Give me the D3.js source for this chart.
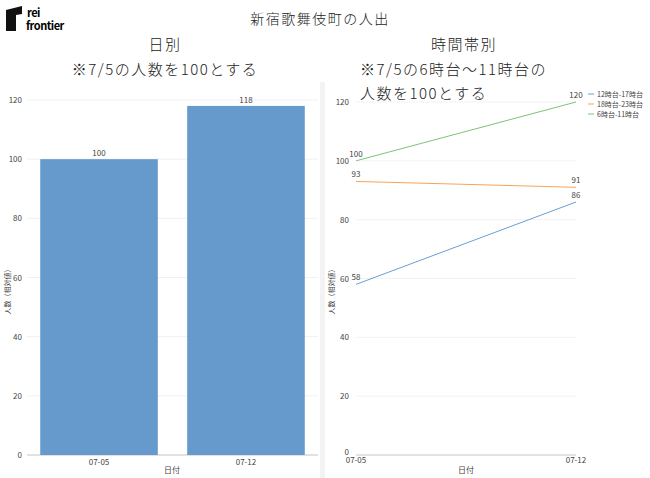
<!DOCTYPE html><html><head><meta charset="utf-8"><script src="https://d3js.org/d3.v7.min.js"></script>
<style>body{margin:0;background:#fff}text{font-family:"Noto Sans CJK JP","Noto Sans",sans-serif}</style></head><body><svg id="c" width="650" height="478"></svg>
<script>
const dates=["07-05","07-12"];
const dailyValues=[100,118];
const seriesNames=["12時台-17時台","18時台-23時台","6時台-11時台"];
const seriesValues=[[58,86],[93,91],[100,120]];
const seriesColors=["#6a9fd0","#f5a55a","#7cc47a"];
const yTicks=[0,20,40,60,80,100,120];
const svg=d3.select("#c");
svg.append("rect").attr("x",320).attr("y",82).attr("width",5).attr("height",396).attr("fill","#f3f3f3");
// logo
svg.append("path").attr("d","M6,10 L22,6 L22,14 L16,15 L16,31 L6,31 Z").attr("fill","#111");
svg.append("text").attr("x",27).attr("y",17).attr("font-size",11).attr("font-weight","bold").attr("font-family","Liberation Sans").attr("letter-spacing",-0.5).text("rei");
svg.append("text").attr("x",26).attr("y",30).attr("font-size",11).attr("font-weight","bold").attr("font-family","Liberation Sans").attr("letter-spacing",-0.5).text("frontier");
const T=(x,y,s,t,a)=>svg.append("text").attr("x",x).attr("y",y).attr("font-size",s).attr("text-anchor",a||"middle").attr("fill","#222").attr("font-weight",300).attr("letter-spacing",1.5).text(t);
T(320,24,14,"新宿歌舞伎町の人出");
T(165,50,15,"日別");
T(165,75,15,"※7/5の人数を100とする");
T(464,50,15,"時間帯別");
T(360,75,15,"※7/5の6時台～11時台の","start");
T(360,99,15,"人数を100とする","start");
const y1=d3.scaleLinear().domain([0,120]).range([455,100]);
const x1=d3.scaleBand().domain(dates).range([27,318]).paddingInner(0.2).paddingOuter(0.09);
const g1=svg.append("g");
yTicks.forEach(t=>{g1.append("line").attr("x1",27).attr("x2",318).attr("y1",y1(t)).attr("y2",y1(t)).attr("stroke","#f0f0f0");
g1.append("text").attr("x",22).attr("y",y1(t)+3).attr("font-size",8).attr("text-anchor","end").attr("fill","#444").text(t);});
g1.append("line").attr("x1",27).attr("x2",318).attr("y1",455).attr("y2",455).attr("stroke","#ccc");
dates.forEach((d,i)=>{g1.append("rect").attr("x",x1(d)).attr("y",y1(dailyValues[i])).attr("width",x1.bandwidth()).attr("height",455-y1(dailyValues[i])).attr("fill","#6699cc");
g1.append("text").attr("x",x1(d)+x1.bandwidth()/2).attr("y",y1(dailyValues[i])-3).attr("font-size",8).attr("text-anchor","middle").attr("fill","#444").text(dailyValues[i]);
g1.append("text").attr("x",x1(d)+x1.bandwidth()/2).attr("y",465).attr("font-size",8).attr("text-anchor","middle").attr("fill","#444").text(d);});
g1.append("text").attr("x",172).attr("y",473).attr("font-size",8).attr("text-anchor","middle").attr("fill","#444").text("日付");
g1.append("text").attr("transform","translate(10,290) rotate(-90)").attr("font-size",7).attr("text-anchor","middle").attr("fill","#444").text("人数（相対値）");
const y2=d3.scaleLinear().domain([0,120]).range([455,102]);
const x2=d3.scalePoint().domain(dates).range([356,576]);
const g2=svg.append("g");
yTicks.forEach(t=>{g2.append("line").attr("x1",356).attr("x2",576).attr("y1",y2(t)).attr("y2",y2(t)).attr("stroke","#f3f3f3");
g2.append("text").attr("x",349).attr("y",y2(t)+(t?3:0)).attr("font-size",8).attr("text-anchor","end").attr("fill","#444").text(t);});
g2.append("line").attr("x1",356).attr("x2",576).attr("y1",455).attr("y2",455).attr("stroke","#ccc");
dates.forEach(d=>g2.append("text").attr("x",x2(d)).attr("y",463).attr("font-size",8).attr("text-anchor","middle").attr("fill","#444").text(d));
g2.append("text").attr("x",466).attr("y",473).attr("font-size",8).attr("text-anchor","middle").attr("fill","#444").text("日付");
g2.append("text").attr("transform","translate(334,290) rotate(-90)").attr("font-size",7).attr("text-anchor","middle").attr("fill","#444").text("人数（相対値）");
const line=d3.line().x((v,i)=>x2(dates[i])).y(v=>y2(v));
seriesValues.forEach((vals,s)=>{g2.append("path").attr("d",line(vals)).attr("fill","none").attr("stroke",seriesColors[s]).attr("stroke-width",1);
vals.forEach((v,i)=>g2.append("text").attr("x",x2(dates[i])).attr("y",y2(v)-4).attr("font-size",8).attr("text-anchor","middle").attr("fill","#444").text(v));
g2.append("line").attr("x1",588).attr("x2",594).attr("y1",94+s*10).attr("y2",94+s*10).attr("stroke",seriesColors[s]);
g2.append("text").attr("x",597).attr("y",97+s*10).attr("font-size",7).attr("fill","#444").text(seriesNames[s]);});
</script></body></html>
